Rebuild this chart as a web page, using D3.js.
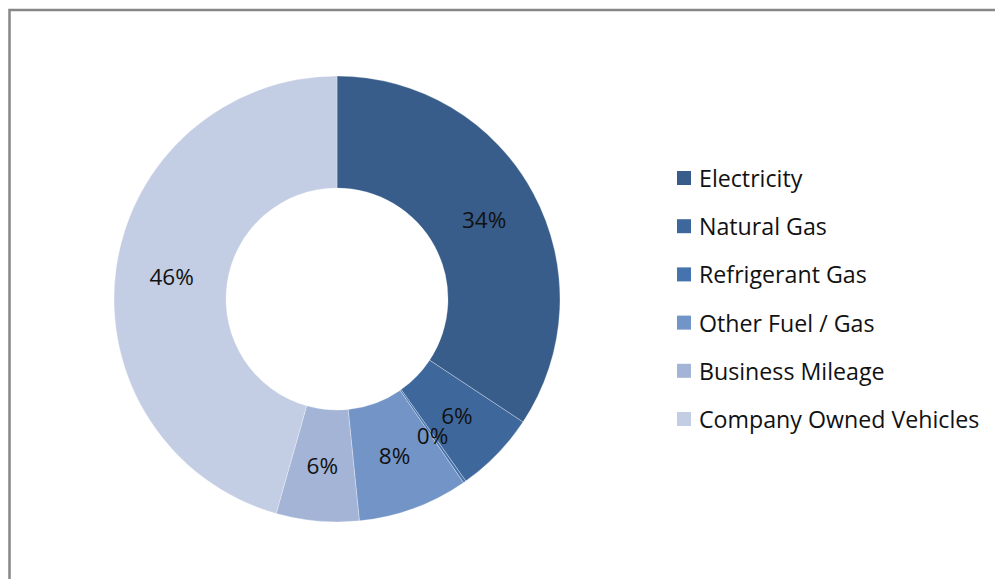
<!DOCTYPE html>
<html>
<head>
<meta charset="utf-8">
<script src="https://cdn.jsdelivr.net/npm/d3@7"></script>
<style>
  body { margin: 0; background: #fff; }
  svg text { font-family: "Open Sans", "Noto Sans", sans-serif; }
</style>
</head>
<body>
<div id="chart"></div>
<script>
// Chart data
const categories = ['Electricity', 'Natural Gas', 'Refrigerant Gas', 'Other Fuel / Gas', 'Business Mileage', 'Company Owned Vehicles'];
const values = [34.3, 5.9, 0.2, 8.0, 6.0, 45.6];
const colors = ['#385d8a', '#3e689c', '#4573ae', '#7394c6', '#a3b4d6', '#c3cde3'];

const width = 995, height = 579;
const cx = 337, cy = 299;
const outerR = 223, innerR = 111;

const svg = d3.select('#chart')
              .append('svg')
              .attr('width', width)
              .attr('height', height);

// Frame round the chart area
svg.append('rect')
   .attr('x', 9.5)
   .attr('y', 10)
   .attr('width', width + 20)
   .attr('height', height + 20)
   .attr('fill', '#fff')
   .attr('stroke', '#878787')
   .attr('stroke-width', 2.5);

const pie = d3.pie().sort(null).value(d => d);
const arc = d3.arc().innerRadius(innerR).outerRadius(outerR);
const labelArc = d3.arc().innerRadius((innerR + outerR) / 2).outerRadius((innerR + outerR) / 2);

const g = svg.append('g').attr('transform', `translate(${cx},${cy})`);
const arcs = pie(values);

g.selectAll('path')
 .data(arcs)
 .enter()
 .append('path')
 .attr('d', arc)
 .attr('fill', (d, i) => colors[i])
 .attr('stroke', '#fff')
 .attr('stroke-opacity', 0.6)
 .attr('stroke-width', 0.5);

g.selectAll('text')
 .data(arcs)
 .enter()
 .append('text')
 .attr('x', d => labelArc.centroid(d)[0])
 .attr('y', d => labelArc.centroid(d)[1])
 .attr('text-anchor', 'middle')
 .attr('dominant-baseline', 'central')
 .attr('font-size', 22.5)
 .attr('fill', '#111')
 .text(d => Math.round(d.data) + '%');

// Legend
const legendY = d3.scalePoint().domain(categories).range([178, 419]);
const legend = svg.append('g');
const item = legend.selectAll('g')
                   .data(categories)
                   .enter()
                   .append('g')
                   .attr('transform', d => `translate(677,${legendY(d)})`);
item.append('rect')
    .attr('x', 0)
    .attr('y', -7)
    .attr('width', 14)
    .attr('height', 14)
    .attr('fill', (d, i) => colors[i]);
item.append('text')
    .attr('x', 22)
    .attr('y', 0)
    .attr('dominant-baseline', 'central')
    .attr('font-size', 23.2)
    .attr('fill', '#111')
    .text(d => d);
</script>
</body>
</html>
